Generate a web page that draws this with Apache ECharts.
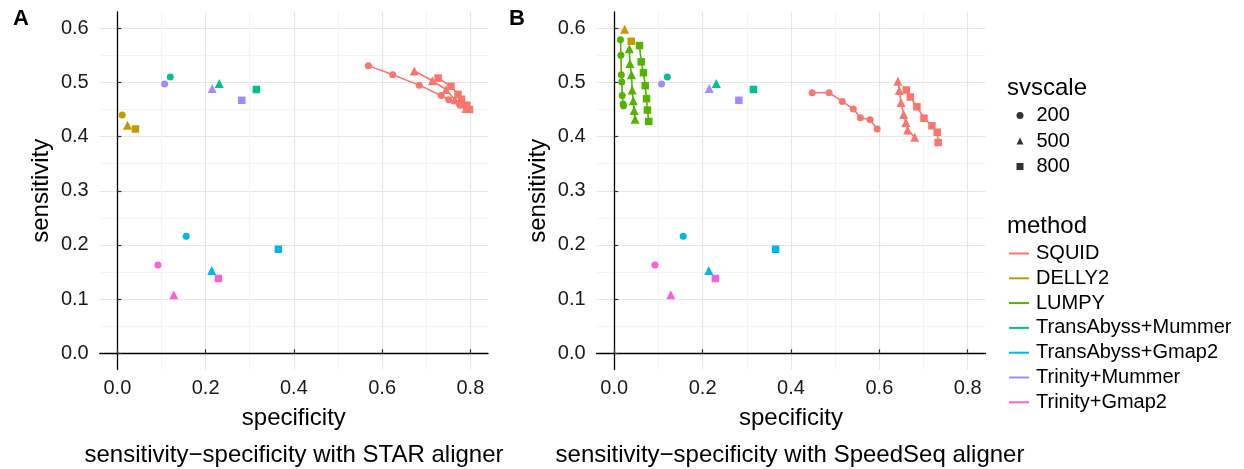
<!DOCTYPE html>
<html>
<head>
<meta charset="utf-8">
<script src="https://cdn.jsdelivr.net/npm/echarts@6/dist/echarts.min.js"></script>
<style>
html, body { margin: 0; padding: 0; background: #fff; }
#main { width: 1244px; height: 469px; }
</style>
</head>
<body>
<div id="main"></div>
<script>
// legend / categories
var methods = ['SQUID', 'DELLY2', 'LUMPY', 'TransAbyss+Mummer', 'TransAbyss+Gmap2', 'Trinity+Mummer', 'Trinity+Gmap2'];
var svscales = ['200', '500', '800'];
var xTicks = [0, 0.2, 0.4, 0.6, 0.8];
var yTicks = [0, 0.1, 0.2, 0.3, 0.4, 0.5, 0.6];

// [specificity, sensitivity] per svscale (200, 500, 800)
// STAR aligner
var starSquid = [
	[[0.569, 0.531], [0.624, 0.514], [0.684, 0.495], [0.734, 0.476], [0.751, 0.468], [0.775, 0.460], [0.795, 0.451]],
	[[0.673, 0.521], [0.714, 0.503], [0.745, 0.487], [0.765, 0.468], [0.780, 0.460], [0.790, 0.452]],
	[[0.727, 0.508], [0.756, 0.493], [0.772, 0.478], [0.780, 0.469], [0.792, 0.458], [0.798, 0.450]]
];
var starDelly = [[[0.011, 0.440]], [[0.023, 0.421]], [[0.041, 0.414]]];
var starLumpy = [[], [], []];

// SpeedSeq aligner
var speedSquid = [
	[[0.448, 0.481], [0.486, 0.481], [0.516, 0.465], [0.541, 0.451], [0.557, 0.435], [0.579, 0.431], [0.595, 0.414]],
	[[0.642, 0.502], [0.645, 0.485], [0.649, 0.463], [0.655, 0.441], [0.660, 0.426], [0.664, 0.412], [0.680, 0.399]],
	[[0.661, 0.486], [0.670, 0.473], [0.685, 0.455], [0.701, 0.434], [0.719, 0.420], [0.731, 0.408], [0.733, 0.389]]
];
var speedDelly = [[], [[0.0235, 0.598]], [[0.0385, 0.576]]];
var speedLumpy = [
	[[0.014, 0.579], [0.015, 0.550], [0.016, 0.514], [0.017, 0.501], [0.018, 0.476], [0.020, 0.460], [0.021, 0.457]],
	[[0.034, 0.562], [0.0355, 0.535], [0.039, 0.514], [0.0405, 0.486], [0.043, 0.466], [0.045, 0.448], [0.047, 0.432]],
	[[0.057, 0.568], [0.061, 0.538], [0.066, 0.518], [0.070, 0.494], [0.073, 0.470], [0.075, 0.449], [0.078, 0.428]]
];

// assembly based methods, same in both panels
var transMummer = [[[0.120, 0.510]], [[0.231, 0.498]], [[0.315, 0.487]]];
var transGmap = [[[0.156, 0.216]], [[0.214, 0.153]], [[0.365, 0.192]]];
var trinityMummer = [[[0.107, 0.497]], [[0.215, 0.489]], [[0.282, 0.467]]];
var trinityGmap = [[[0.092, 0.163]], [[0.128, 0.108]], [[0.229, 0.138]]];

var starData = [starSquid, starDelly, starLumpy, transMummer, transGmap, trinityMummer, trinityGmap];
var speedData = [speedSquid, speedDelly, speedLumpy, transMummer, transGmap, trinityMummer, trinityGmap];

//ggplot hue colors
var colors = ['#F8766D', '#C49A00', '#53B400', '#00C094', '#00B6EB', '#A58AFF', '#FB61D7'];
var shapes = ['circle', 'triangle', 'rect'];
var shapeSizes = [7, 9, 7.5];
var font = 'Liberation Sans, Arial, Helvetica, sans-serif';

var T = 'transparent';
var majorCol = '#e6e6e6', minorCol = '#f3f3f3';

function isMajor(v, step) {
	var r = v / step;
	return Math.abs(r - Math.round(r)) < 1e-6;
}

//主坐标轴：细间隔，只在主刻度处显示标签，网格线按颜色循环区分主次
function makeXAxis(idx) {
	return {
		type: 'value', gridIndex: idx,
		min: -0.04, max: 0.84, interval: 0.02,
		name: 'specificity', nameLocation: 'middle', nameGap: 37,
		nameTextStyle: { fontSize: 24, color: '#000', fontFamily: font },
		axisLine: { show: true, lineStyle: { color: '#000', width: 1.3 } },
		axisTick: { show: false },
		axisLabel: { fontSize: 20, color: '#1a1a1a', fontFamily: font, margin: 9,
			showMinLabel: false, showMaxLabel: false,
			formatter: function(v) { return isMajor(v, 0.2) ? v.toFixed(1) : ''; } },
		splitLine: { show: true, lineStyle: { width: 1.1, color: [T, T, majorCol, T, T, T, T, minorCol, T, T] } }
	};
}
function makeYAxis(idx) {
	return {
		type: 'value', gridIndex: idx,
		min: -0.03, max: 0.63, interval: 0.01,
		name: 'sensitivity', nameLocation: 'middle', nameGap: 46,
		nameTextStyle: { fontSize: 24, color: '#000', fontFamily: font },
		axisLine: { show: true, lineStyle: { color: '#000', width: 1.3 } },
		axisTick: { show: false },
		axisLabel: { fontSize: 20, color: '#1a1a1a', fontFamily: font, margin: 11,
			showMinLabel: false, showMaxLabel: false,
			formatter: function(v) { return isMajor(v, 0.1) ? v.toFixed(1) : ''; } },
		splitLine: { show: true, lineStyle: { width: 1.1, color: [T, T, T, majorCol, T, T, T, T, minorCol, T] } }
	};
}
//刻度线专用的叠加坐标轴
function tickAxis(idx, min, max, ticks) {
	return {
		type: 'value', gridIndex: idx, min: min, max: max,
		axisLine: { show: false }, axisLabel: { show: false }, splitLine: { show: false },
		axisTick: { show: true, length: 4, customValues: ticks, lineStyle: { color: '#333', width: 1.2 } }
	};
}

var series = [];
function addPanel(panel, dataList) {
	for (var m = 0; m < dataList.length; m++) {
		for (var s = 0; s < 3; s++) {
			var pts = dataList[m][s];
			if (!pts.length) continue;
			series.push({
				name: methods[m],
				type: pts.length > 1 ? 'line' : 'scatter',
				xAxisIndex: panel, yAxisIndex: panel,
				data: pts,
				symbol: shapes[s],
				symbolSize: shapeSizes[s],
				showSymbol: true,
				itemStyle: { color: colors[m], opacity: 1 },
				lineStyle: { color: colors[m], width: 1.6 },
				z: 3
			});
		}
	}
}
// dummy series for svscale legend
for (var k = 0; k < svscales.length; k++) {
	series.push({ name: svscales[k], type: 'scatter', data: [], xAxisIndex: 0, yAxisIndex: 0, itemStyle: { color: '#000' } });
}
addPanel(0, starData);
addPanel(1, speedData);

var option = {
	animation: false,
	backgroundColor: '#fff',
	textStyle: { fontFamily: font },
	grid: [
		{ left: 99.7, top: 12, width: 388.3, height: 357.5 },
		{ left: 596.6, top: 12, width: 388.8, height: 357.5 }
	],
	xAxis: [makeXAxis(0), makeXAxis(1), tickAxis(0, -0.04, 0.84, xTicks), tickAxis(1, -0.04, 0.84, xTicks)],
	yAxis: [makeYAxis(0), makeYAxis(1), tickAxis(0, -0.03, 0.63, yTicks), tickAxis(1, -0.03, 0.63, yTicks)],
	legend: [
		{
			orient: 'vertical', left: 1016.5, top: 105.5, itemGap: 5.5, padding: 0,
			itemWidth: 7, itemHeight: 7, selectedMode: false,
			data: [{ name: '200', icon: 'circle' }, { name: '500', icon: 'triangle' }, { name: '800', icon: 'rect' }],
			textStyle: { fontSize: 20, color: '#000', fontFamily: font, padding: [0, 0, 0, 8] }
		},
		{
			orient: 'vertical', left: 1009, top: 243.5, itemGap: 4.8, padding: 0,
			itemWidth: 20, itemHeight: 2, selectedMode: false,
			data: methods.map(function(n) { return { name: n, icon: 'rect' }; }),
			textStyle: { fontSize: 20, color: '#000', fontFamily: font, padding: [0, 0, 0, 2] }
		}
	],
	graphic: [
		{ type: 'text', x: 13, y: 8, style: { text: 'A', fontSize: 22, fontWeight: 'bold', fill: '#000', fontFamily: font } },
		{ type: 'text', x: 509, y: 8, style: { text: 'B', fontSize: 22, fontWeight: 'bold', fill: '#000', fontFamily: font } },
		{ type: 'text', x: 294, y: 455, style: { text: 'sensitivity\u2212specificity with STAR aligner', fontSize: 24, fill: '#000', fontFamily: font, align: 'center', verticalAlign: 'middle' } },
		{ type: 'text', x: 790, y: 455, style: { text: 'sensitivity\u2212specificity with SpeedSeq aligner', fontSize: 24, fill: '#000', fontFamily: font, align: 'center', verticalAlign: 'middle' } },
		{ type: 'text', x: 1007, y: 88, style: { text: 'svscale', fontSize: 24, fill: '#000', fontFamily: font, verticalAlign: 'middle' } },
		{ type: 'text', x: 1007, y: 226, style: { text: 'method', fontSize: 24, fill: '#000', fontFamily: font, verticalAlign: 'middle' } }
	],
	series: series
};

var myChart = echarts.init(document.getElementById('main'));
myChart.setOption(option);
</script>
</body>
</html>
